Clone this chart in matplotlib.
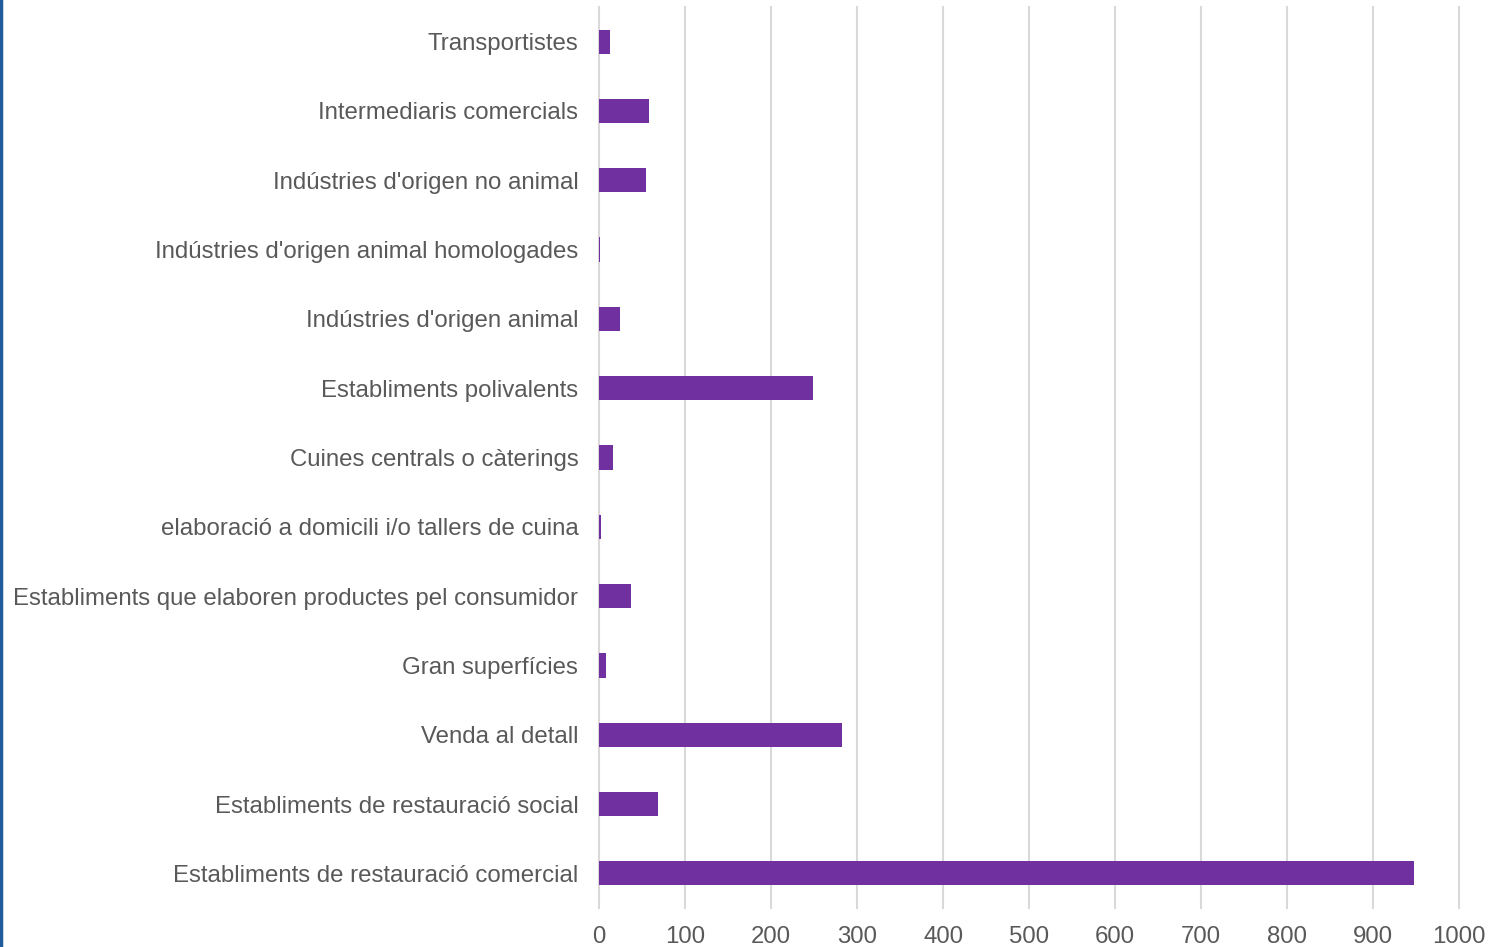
import matplotlib

matplotlib.use("Agg")
import matplotlib.pyplot as plt
from matplotlib.lines import Line2D

# Categories listed bottom to top, as drawn
categories = [
    "Establiments de restauració comercial",
    "Establiments de restauració social",
    "Venda al detall",
    "Gran superfícies",
    "Establiments que elaboren productes pel consumidor",
    "elaboració a domicili i/o tallers de cuina",
    "Cuines centrals o càterings",
    "Establiments polivalents",
    "Indústries d'origen animal",
    "Indústries d'origen animal homologades",
    "Indústries d'origen no animal",
    "Intermediaris comercials",
    "Transportistes",
]
values = [948, 69, 283, 8, 37, 2, 16, 249, 24, 1.5, 54, 58, 13]
x_ticks = [0, 100, 200, 300, 400, 500, 600, 700, 800, 900, 1000]

BAR = "#7030A0"
TEXT = "#595959"
GRID = "#D9D9D9"

plt.rcParams["font.family"] = ["Liberation Sans", "DejaVu Sans"]

fig = plt.figure(figsize=(14.94, 9.47), dpi=100)
ax = fig.add_axes([0.401, 0.0412, 0.9766 - 0.401, 0.9926 - 0.0412])

ypos = range(len(categories))
ax.barh(ypos, values, height=0.35, color=BAR, zorder=3)

ax.set_xlim(0, 1000)
ax.set_ylim(-0.5, len(categories) - 0.5)
ax.set_xticks(x_ticks)
ax.set_xticklabels([str(t) for t in x_ticks])
ax.set_yticks(list(ypos))
ax.set_yticklabels(categories)

ax.grid(axis="x", color=GRID, linewidth=1.5, zorder=0)
for line in ax.get_xgridlines():
    line.set_clip_on(False)
for s in ax.spines.values():
    s.set_visible(False)
ax.tick_params(axis="both", length=0, colors=TEXT, labelsize=17.3)
ax.tick_params(axis="y", pad=15)
ax.tick_params(axis="x", pad=13)

# blue frame edge on the left of the picture
fig.add_artist(Line2D([0.0008, 0.0008], [0, 1], transform=fig.transFigure,
                      color="#1F5C99", linewidth=2.5))

fig.savefig("out.png", dpi=100)
